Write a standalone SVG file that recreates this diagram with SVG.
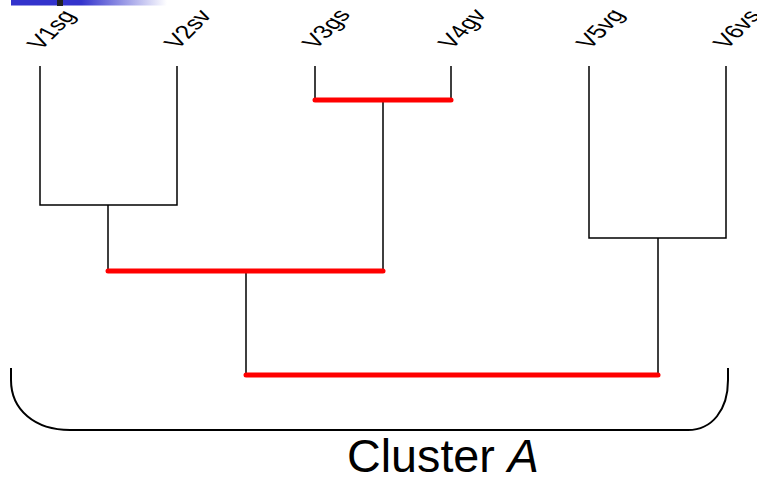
<svg xmlns="http://www.w3.org/2000/svg" width="757" height="481" viewBox="0 0 757 481">
<defs>
<linearGradient id="bar" x1="0" y1="0" x2="1" y2="0">
<stop offset="0" stop-color="#3333cc"/>
<stop offset="0.45" stop-color="#3333cc"/>
<stop offset="1" stop-color="#ffffff"/>
</linearGradient>
</defs>
<style>
.tree{fill:none;stroke:#000;stroke-width:1.5}
.red{fill:none;stroke:#ff0000;stroke-width:5;stroke-linecap:round}
.lbl{font-family:"Liberation Sans",Arial,sans-serif;font-size:27px;fill:#000}
.br{fill:none;stroke:#000;stroke-width:2}
</style>
<rect x="11" y="0" width="156" height="5.5" fill="url(#bar)"/>
<rect x="57" y="0" width="6" height="6" fill="#222"/>
<g id="V1sg"><text class="lbl" transform="translate(41,51) scale(1,0.7) rotate(-55)">V1sg</text></g>
<g id="V2sv"><text class="lbl" transform="translate(178,50) scale(1,0.7) rotate(-55)">V2sv</text></g>
<g id="V3gs"><text class="lbl" transform="translate(316,50) scale(1,0.7) rotate(-55)">V3gs</text></g>
<g id="V4gv"><text class="lbl" transform="translate(452,50) scale(1,0.7) rotate(-55)">V4gv</text></g>
<g id="V5vg"><text class="lbl" transform="translate(590,50) scale(1,0.7) rotate(-55)">V5vg</text></g>
<g id="V6vs"><text class="lbl" transform="translate(727,50) scale(1,0.7) rotate(-55)">V6vs</text></g>
<g id="connectors">
<path class="tree" d="M40 66 V205 H177 V66"/>
<path class="tree" d="M315 66 V100 M451 66 V100"/>
<path class="tree" d="M108 205 V271 M383 100 V271"/>
<path class="tree" d="M589 66 V238 H726 V66"/>
<path class="tree" d="M246 271 V375 M658 238 V375"/>
<path class="red" d="M315 100 H451"/>
<path class="red" d="M108 271 H383"/>
<path class="red" d="M246 375 H658"/>
</g>
<g id="clusterA">
<path class="br" d="M11 368 V380 C11 410 35 430 70 430 H688 C712 430 728 410 728 380 V368"/>
<text x="347" y="472" font-family="'Liberation Sans',Arial,sans-serif" font-size="46" fill="#000" textLength="192" lengthAdjust="spacingAndGlyphs">Cluster <tspan font-style="italic">A</tspan></text>
</g>
</svg>
